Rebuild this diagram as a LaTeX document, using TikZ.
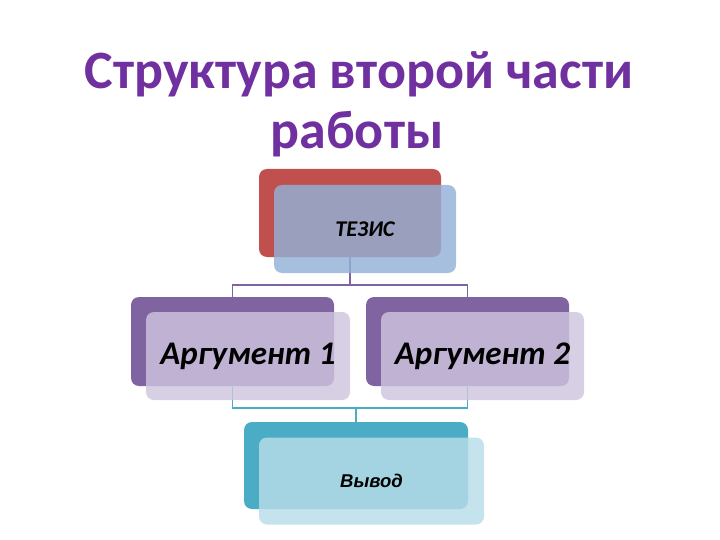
\documentclass[tikz,border=0pt]{standalone}
\usepackage{fontspec}
\setmainfont{Carlito}
\newfontfamily\argfont{Liberation Sans}
\usetikzlibrary{positioning}
\definecolor{titlepurple}{HTML}{7030A0}
\definecolor{redback}{HTML}{C0504D}
\definecolor{bluefront}{HTML}{93B1D8}
\definecolor{purpleback}{HTML}{8064A2}
\definecolor{purplefront}{HTML}{CEC4DE}
\definecolor{tealback}{HTML}{4BACC6}
\definecolor{tealfront}{HTML}{B8DDE8}
\tikzset{
  titletext/.style={text=titlepurple, font=\fontsize{54}{60}\selectfont\bfseries, anchor=base, inner sep=0pt},
  backbox/.style={rounded corners=8pt, inner sep=0pt},
  frontbox/.style={rounded corners=8pt, inner sep=0pt, fill opacity=0.82, text opacity=1},
  linkpurple/.style={draw=purpleback, line width=1.7pt},
  linkteal/.style={draw=tealback, line width=1.7pt},
}
\begin{document}
\begin{tikzpicture}[x=1pt,y=-1pt]
\useasboundingbox (0,0) rectangle (720,540);
% title
\node[titletext] (t1) at (359,89) {Структура второй части};
\node[titletext] (t2) at (357,149) {работы};
% back boxes
\node[backbox, fill=redback, minimum width=182pt, minimum height=88pt] (tb) at (350,213) {};
\node[backbox, fill=purpleback, minimum width=203pt, minimum height=89pt] (a1b) at (232.5,341.5) {};
\node[backbox, fill=purpleback, minimum width=203pt, minimum height=89pt] (a2b) at (467.5,341.5) {};
\node[backbox, fill=tealback, minimum width=224pt, minimum height=87pt] (vb) at (356,465.5) {};
% connectors
\coordinate (j1) at (350,285);
\coordinate (j2) at (356,408);
\draw[linkpurple] (tb.south) -- (j1) -| (a1b.north);
\draw[linkpurple] (j1) -| (a2b.north);
\draw[linkteal] (a1b.south) |- (j2) -| (a2b.south);
\draw[linkteal] (j2) -- (vb.north);
% front boxes
\node[frontbox, fill=bluefront, minimum width=182pt, minimum height=88pt,
      font=\fontsize{22.5}{24}\selectfont\bfseries\itshape] (tf) at (365,229) {ТЕЗИС};
\node[frontbox, fill=purplefront, minimum width=204pt, minimum height=88pt,
      font=\fontsize{33}{36}\selectfont\bfseries\itshape] (a1f) at (248,356) {Аргумент 1};
\node[frontbox, fill=purplefront, minimum width=203pt, minimum height=88pt,
      font=\fontsize{33}{36}\selectfont\bfseries\itshape] (a2f) at (482.5,356) {Аргумент 2};
\node[frontbox, fill=tealfront, minimum width=225pt, minimum height=87pt,
      font=\argfont\fontsize{18.5}{22}\selectfont\itshape\bfseries] (vf) at (371.5,481) {Вывод};
\end{tikzpicture}
\end{document}
